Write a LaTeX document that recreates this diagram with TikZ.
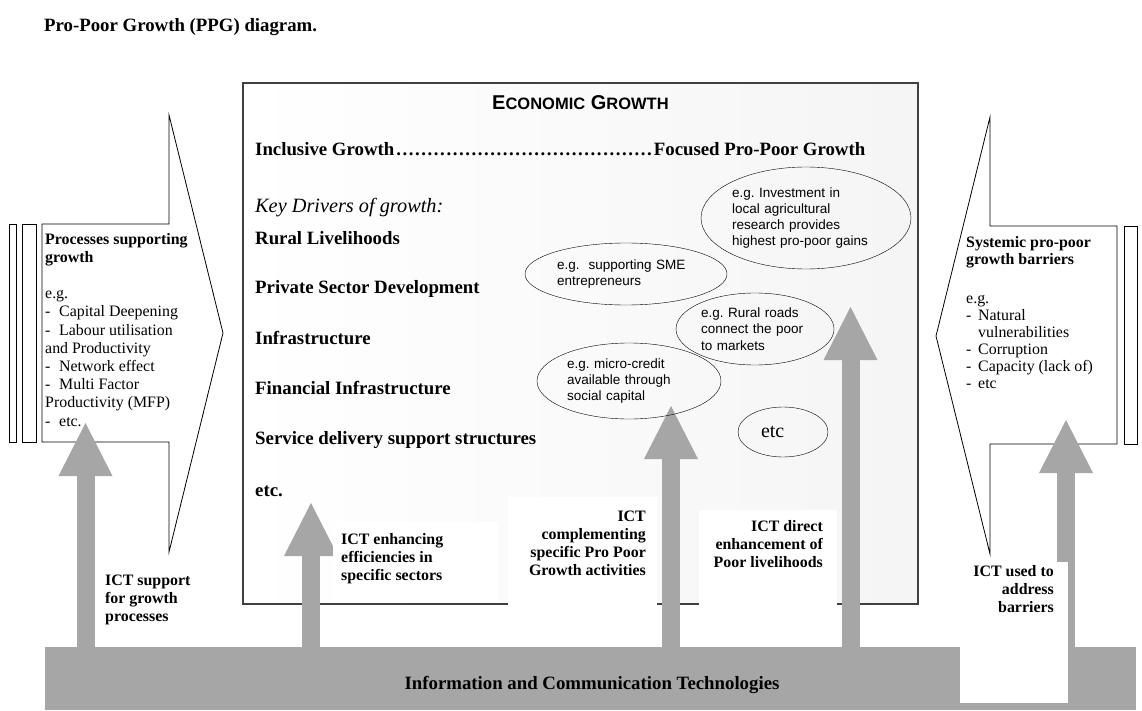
\documentclass[tikz,border=0pt]{standalone}
\usepackage{fontspec}
\setmainfont{Liberation Serif}
\setsansfont{Liberation Sans}
\usepackage{xcolor}
\usetikzlibrary{positioning, shapes.geometric, arrows.meta}

\definecolor{ictgray}{RGB}{166,166,166}
\newcommand{\drvfont}{\fontsize{18.8}{22}\selectfont\bfseries}
\newcommand{\lblfont}{\fontsize{15.9}{18}\selectfont\bfseries}
\newcommand{\egfont}{\fontsize{13.5}{16.3}\selectfont\sffamily}
\newcommand{\itemdash}[1][14pt]{\makebox[#1][l]{-}}
\newcommand{\growthdots}{\cleaders\hbox to 6.27pt{\hss.\hss}\hfill}
\frenchspacing

\tikzset{
  driver/.style={anchor=base west, font=\drvfont, inner sep=0pt},
  ictlabel/.style={font=\lblfont, inner sep=0pt},
  egoval/.style={draw, ellipse, inner sep=0pt, font=\egfont, align=left},
  chevron/.style={draw, line width=0.8pt, fill=white},
  ictarrow/.style={draw=ictgray, line width=18pt, -{Triangle[length=53pt, width=54pt, line width=0pt]}},
}

\begin{document}
\begin{tikzpicture}[x=1pt, y=-1pt]
  \useasboundingbox (0,0) rectangle (1142,711);
  % heading
  \node[anchor=base west, inner sep=0pt, font=\drvfont] (title) at (44,32) {Pro-Poor Growth (PPG) diagram.};

  % growth box in the middle
  \node[draw=black!75, line width=1.5pt, left color=white, right color=black!4,
        minimum width=675pt, minimum height=521pt, inner sep=0pt] (growth) at (580.5,343.5) {};

  % side block arrows with their strips
  \draw[chevron] (42,224) -- (169,224) -- (169,115) -- (223,333) -- (169,552) -- (169,442) -- (42,442) -- cycle;
  \draw[chevron] (9,224) rectangle (16,442);
  \draw[chevron] (22,224) rectangle (36,442);
  \draw[chevron] (1117,226) -- (990,226) -- (990,117) -- (936,336) -- (990,554) -- (990,444) -- (1117,444) -- cycle;
  \draw[chevron] (1124,226) rectangle (1137,444);

  % ICT base bar
  \node[fill=ictgray, minimum width=1091pt, minimum height=63pt, inner sep=0pt] (ict) at (590.5,678.5) {};
  \node[anchor=base, inner sep=0pt, font=\drvfont] (icttext) at (592,689) {Information and Communication Technologies};

  % arrows rising from the bar
  \coordinate (t1) at (85.5,423);
  \coordinate (t2) at (311,503);
  \coordinate (t3) at (671,406);
  \coordinate (t4) at (850.5,307);
  \coordinate (t5) at (1066,420);
  \foreach \t in {t1,t2,t3,t4,t5}
    \draw[ictarrow] (\t |- ict.north) -- (\t);

  % white panels behind the arrow labels
  \fill[white] (333,522) rectangle (498,602);
  \fill[white] (508,497) rectangle (657,640);
  \fill[white] (699,510) rectangle (837,640);
  \fill[white] (960,562) rectangle (1068,703);

  % arrow labels
  \node[ictlabel, anchor=north west, align=left] (support) at (105,575) {ICT support\\for growth\\processes};
  \node[ictlabel, anchor=north west, align=left] (effic) at (341,533) {ICT enhancing\\efficiencies in\\specific sectors};
  \node[ictlabel, anchor=north east, align=right] (compl) at (646,511) {ICT\\complementing\\specific Pro Poor\\Growth activities};
  \node[ictlabel, anchor=north east, align=right] (direct) at (823,520) {ICT direct\\enhancement of\\Poor livelihoods};
  \node[ictlabel, anchor=north east, align=right] (address) at (1054,565) {ICT used to\\address\\barriers};

  % side texts
  \node[anchor=north west, inner sep=0pt, align=left, font=\fontsize{15.9}{18.2}\selectfont] (procs) at (45,233)
    {\textbf{Processes supporting}\\\textbf{growth}\\[18pt]e.g.\\\itemdash Capital Deepening\\\itemdash Labour utilisation\\and Productivity\\\itemdash Network effect\\\itemdash Multi Factor\\Productivity (MFP)\\\itemdash etc.};
  \node[anchor=north west, inner sep=0pt, align=left, font=\fontsize{15.9}{17}\selectfont] (barriers) at (966,236.5)
    {\textbf{Systemic pro-poor}\\\textbf{growth barriers}\\[22pt]e.g.\\\itemdash[12pt]Natural\\\hspace*{12pt}vulnerabilities\\\itemdash[12pt]Corruption\\\itemdash[12pt]Capacity (lack of)\\\itemdash[12pt]etc};

  % growth box contents
  \node[anchor=base west, inner sep=0pt, font=\sffamily\bfseries\fontsize{20}{22}\selectfont] (econ) at (492,110)
    {E{\fontsize{16.5}{20}\selectfont CONOMIC} G{\fontsize{16.5}{20}\selectfont ROWTH}};
  \node[driver] (inclusive) at (255,156) {\hbox to 610pt{Inclusive Growth\growthdots Focused Pro-Poor Growth}};
  \node[driver, font=\fontsize{20.3}{22}\selectfont\itshape] (drivers) at (255,213) {Key Drivers of growth:};
  \node[driver] (rural) at (255,244) {Rural Livelihoods};
  \node[driver] (private) at (255,293) {Private Sector Development};
  \node[driver] (infra) at (255,344) {Infrastructure};
  \node[driver] (finance) at (255,394) {Financial Infrastructure};
  \node[driver] (service) at (255,444) {Service delivery support structures};
  \node[driver] (more) at (255,496) {etc.};

  % examples
  \node[egoval, minimum width=210pt, minimum height=102pt, text width=148pt] (invest) at (806,218)
    {e.g. Investment in\\local agricultural\\research provides\\highest pro-poor gains};
  \node[egoval, minimum width=202pt, minimum height=62pt, text width=138pt] (sme) at (626,274)
    {e.g.~ supporting SME\\entrepreneurs};
  \node[egoval, minimum width=158pt, minimum height=72pt, text width=108pt] (roads) at (755,329)
    {e.g. Rural roads\\connect the poor\\to markets};
  \node[egoval, minimum width=184pt, minimum height=76pt, text width=124pt] (credit) at (629,381)
    {e.g. micro-credit\\available through\\social capital};
  \node[egoval, minimum width=90pt, minimum height=50pt, text width=44pt, font=\fontsize{20}{22}\selectfont\rmfamily] (moreeg) at (783,432) {etc};
\end{tikzpicture}
\end{document}
